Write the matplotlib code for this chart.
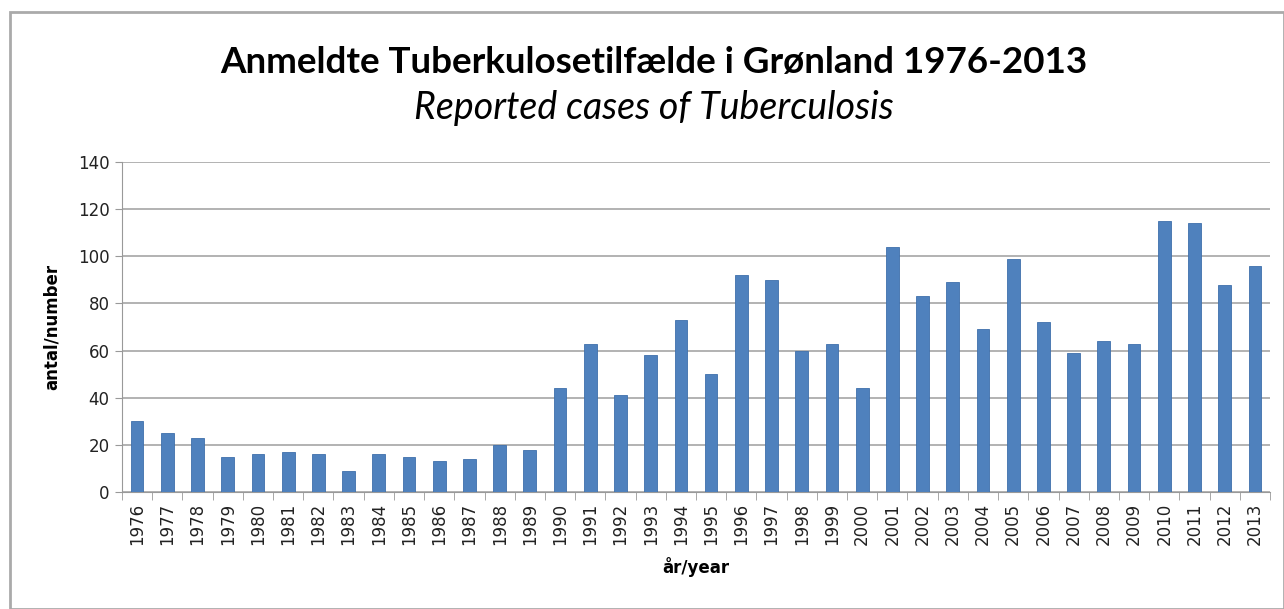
import numpy as np
import matplotlib.pyplot as plt
from matplotlib.patches import Rectangle

years = [str(y) for y in range(1976, 2014)]
cases = [30, 25, 23, 15, 16, 17, 16, 9, 16, 15, 13, 14, 20, 18,
         44, 63, 41, 58, 73, 50, 92, 90, 60, 63, 44, 104, 83, 89,
         69, 99, 72, 59, 64, 63, 115, 114, 88, 96]
yticks = [0, 20, 40, 60, 80, 100, 120, 140]

fig = plt.figure(figsize=(12.84, 6.09), dpi=100)
ax = fig.add_axes([122/1284, 1 - 492/609, (1270-122)/1284, (492-162)/609])

x = np.arange(len(years))
ax.bar(x, cases, width=0.42, color='#4F81BD', edgecolor='#3F70AB', linewidth=0.6, zorder=3)

ax.set_xlim(-0.5, len(years) - 0.5)
ax.set_ylim(0, 140)
ax.set_yticks(yticks)
ax.set_yticklabels([str(v) for v in yticks], fontsize=12, color='#222222')
ax.set_xticks(x)
ax.set_xticklabels(years, rotation=90, fontsize=12, color='#222222')
ax.set_xticks(np.arange(-0.5, len(years)), minor=True)
ax.tick_params(axis='x', which='major', length=0, pad=8)
ax.tick_params(axis='x', which='minor', length=6, color='#999999')
ax.tick_params(axis='y', length=5, color='#999999', pad=4)

ax.grid(axis='y', color='#a6a6a6', linewidth=1.2, zorder=0)
for s in ['top', 'right']:
    ax.spines[s].set_visible(False)
ax.spines['left'].set_color('#999999')
ax.spines['bottom'].set_color('#999999')

ax.set_ylabel('antal/number', fontsize=12, fontweight='bold', labelpad=12)
ax.set_xlabel('år/year', fontsize=12, fontweight='bold', labelpad=8)

fig.text(0.509, 0.898, 'Anmeldte Tuberkulosetilfælde i Grønland 1976-2013',
         ha='center', va='center', fontsize=26.5, fontweight='bold', family='Lato')
fig.text(0.509, 0.822, 'Reported cases of Tuberculosis',
         ha='center', va='center', fontsize=27, style='italic', family='Lato')

# outer chart frame
fig.patches.append(Rectangle((10/1284, 0), 1 - 10/1284, 1 - 12/609, transform=fig.transFigure,
                             fill=False, edgecolor='#aaaaaa', linewidth=2))

fig.savefig('out.png', dpi=100)
